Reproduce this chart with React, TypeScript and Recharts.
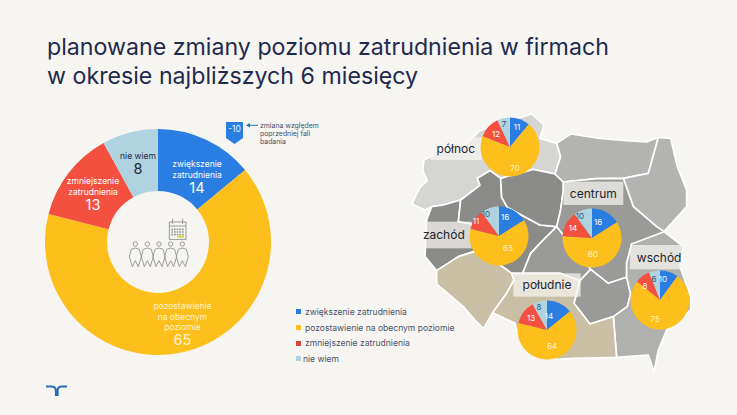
import { PieChart, Pie, Cell, Legend } from 'recharts';

const FONT = 'Inter, "Open Sans", sans-serif';

const categories = ['zwiększenie zatrudnienia', 'pozostawienie na obecnym poziomie', 'zmniejszenie zatrudnienia', 'nie wiem'];
const colors = ['#2a7de1', '#fdbf1c', '#f4503f', '#afd3e0'];

const totalValues = [14, 65, 13, 8];
const polnocValues = [11, 70, 12, 7];
const zachodValues = [16, 63, 11, 10];
const centrumValues = [16, 60, 14, 10];
const poludnieValues = [14, 64, 13, 8];
const wschodValues = [10, 75, 8, 6];

const toRows = (values: number[]) => values.map((value, i) => ({ name: categories[i], value }));

const donutLines = [['zwiększenie', 'zatrudnienia'], ['pozostawienie', 'na obecnym', 'poziomie'], ['zmniejszenie', 'zatrudnienia'], ['nie wiem']];
// x offset and first line y offset from the donut centre
const donutOffsets = [[39, -78], [24.5, 64], [-65, -61], [-20, -86]];

// regions on the map, label offsets are px from the pie centre
const regions = [
  { key: 'polnoc', values: polnocValues, cx: 510, cy: 147, offsets: [[7, -20], [5, 21], [-14, -13], [-6, -23]] },
  { key: 'zachod', values: zachodValues, cx: 499, cy: 236, offsets: [[6, -19], [9, 12], [-23, -15], [-13, -22]] },
  { key: 'centrum', values: centrumValues, cx: 592, cy: 238, offsets: [[6, -16], [1, 16], [-19, -10], [-12, -22]] },
  { key: 'poludnie', values: poludnieValues, cx: 547, cy: 330, offsets: [[2, -14], [5, 16], [-16, -12], [-8, -23]] },
  { key: 'wschod', values: wschodValues, cx: 660, cy: 300, offsets: [[3, -21], [-5, 19], [-15, -14], [-6, -21]] },
];

const mapShapes = [
  // pomorze
  { fill: '#d5d5d3', d: 'M72 150 L110 130 L160 115 L200 100 L240 62 L330 32 L395 12 L432 45 L420 85 L470 100 L482 140 L465 192 L400 178 L302 205 L270 182 L232 205 L240 226 L182 270 L130 285 L95 290 L75 300 L36 282 L60 232 L82 212 L68 180 Z' },
  // lubuskie
  { fill: '#8b8b8a', d: 'M95 290 L130 285 L182 270 L175 335 L215 342 L222 425 L175 440 L110 482 L75 440 L80 330 Z' },
  // wielkopolskie
  { fill: '#8b8b8a', d: 'M182 270 L240 226 L232 205 L270 182 L302 205 L305 262 L322 292 L420 345 L470 350 L425 395 L392 430 L368 490 L335 490 L300 465 L222 425 L215 342 L175 335 Z' },
  // kujawy
  { fill: '#8b8b8a', d: 'M302 205 L400 178 L465 192 L490 216 L490 240 L482 300 L470 350 L420 345 L322 292 L305 262 Z' },
  // warmia
  { fill: '#b3b3b1', d: 'M470 100 L512 72 L600 85 L680 92 L740 96 L775 82 L762 130 L745 190 L670 205 L590 206 L490 216 L465 192 L482 140 Z' },
  // podlasie
  { fill: '#b3b3b1', d: 'M775 82 L812 85 L832 170 L860 240 L860 290 L792 365 L770 350 L700 290 L670 205 L745 190 L762 130 Z' },
  // mazowsze
  { fill: '#9a9a99', d: 'M490 216 L590 206 L670 205 L700 290 L770 350 L792 365 L760 390 L695 402 L680 460 L680 502 L625 520 L572 478 L470 350 L482 300 L490 240 Z' },
  // lodzkie
  { fill: '#9a9a99', d: 'M470 350 L572 478 L540 512 L480 490 L368 490 L392 430 L425 395 Z' },
  // swietokrzyskie
  { fill: '#9a9a99', d: 'M572 478 L625 520 L680 502 L692 552 L682 590 L640 620 L570 642 L522 580 L540 512 Z' },
  // lubelskie, podkarpackie
  { fill: '#b0b0ae', d: 'M695 402 L792 365 L850 410 L840 470 L872 560 L872 600 L800 660 L775 720 L762 785 L745 735 L650 742 L640 620 L682 590 L692 552 L680 502 L680 460 Z' },
  // dolny slask
  { fill: '#c9bfa5', d: 'M110 482 L175 440 L222 425 L300 465 L335 490 L342 510 L320 550 L278 608 L250 656 L225 630 L190 590 L110 522 Z' },
  // slask, malopolska
  { fill: '#c9bfa5', d: 'M278 608 L320 550 L342 510 L335 490 L368 490 L480 490 L540 512 L522 580 L570 642 L640 620 L650 742 L520 745 L470 748 L350 660 L345 640 Z' },
];

const mapLabels = [
  { text: 'północ', x: 90, y: 82, w: 155, h: 68 },
  { text: 'centrum', x: 490, y: 215, w: 180, h: 70 },
  { text: 'zachód', x: 48, y: 335, w: 167, h: 80 },
  { text: 'południe', x: 340, y: 490, w: 202, h: 70 },
  { text: 'wschód', x: 690, y: 405, w: 175, h: 73 },
];

const donutLabel = (p: any) => {
  const [dx, dy] = donutOffsets[p.index];
  const lines = donutLines[p.index];
  const x = p.cx + dx;
  const top = p.cy + dy;
  return (
    <text textAnchor="middle" fontFamily={FONT} fill={p.index === 3 ? '#1f2a3d' : p.index === 1 ? '#fff3cf' : '#ffffff'}>
      {lines.map((line, i) => (
        <tspan key={i} x={x} y={top + 3 + i * 10.5} fontSize={8.5}>{line}</tspan>
      ))}
      <tspan x={x} y={top + (lines.length - 1) * 10.5 + 18} fontSize={14.5}>{p.value}</tspan>
    </text>
  );
};

const smallLabel = (offsets: number[][]) => (p: any) => (
  <text
    x={p.cx + offsets[p.index][0]}
    y={p.cy + offsets[p.index][1]}
    textAnchor="middle"
    dominantBaseline="central"
    fontFamily={FONT}
    fontSize={8}
    fill={p.index === 3 ? '#3b5472' : p.index === 1 ? '#fff3cf' : '#ffffff'}
  >
    {p.value}
  </text>
);

const LegendBox = () => (
  <div style={{ fontFamily: FONT, fontSize: 8.55, color: '#4a5268' }}>
    {categories.map((c, i) => (
      <div key={c} style={{ display: 'flex', alignItems: 'center', height: 15.7 }}>
        <span style={{ width: 5, height: 5, background: i === 2 ? '#d8453a' : colors[i], marginRight: i === 3 ? 2 : 4 }} />
        {c}
      </div>
    ))}
  </div>
);

const MapLayer = () => (
  <svg width={737} height={415} style={{ position: 'absolute', left: 0, top: 0 }}>
    <g transform="translate(400,110) scale(0.3333)">
      {mapShapes.map((s, i) => (
        <path key={i} d={s.d} fill={s.fill} stroke="#ffffff" strokeWidth={5} strokeLinejoin="round" />
      ))}
      {mapLabels.map((l) => (
        <g key={l.text}>
          <rect x={l.x} y={l.y} width={l.w} height={l.h} fill="#f6f5f1" fillOpacity={0.72} />
          <text x={l.x + l.w / 2} y={l.y + l.h / 2} textAnchor="middle" dominantBaseline="central" fontFamily={FONT} fontSize={36} fill="#20242e">
            {l.text}
          </text>
        </g>
      ))}
    </g>
  </svg>
);

const Decorations = () => (
  <svg width={737} height={415} style={{ position: 'absolute', left: 0, top: 0 }}>
    {/* calendar + people in the middle of the donut */}
    <g transform="translate(30,110) scale(0.3333)" fill="none" stroke="#8a8a88" strokeWidth={2.5}>
      <rect x={418} y={336} width={50} height={52} fill="#f6f5f1" />
      <path d="M418 348 H468 M428 326 V342 M458 326 V342" />
      <path d="M424 358 H462 M424 366 H462 M424 374 H462" stroke="#8f9a8a" strokeDasharray="5 3" strokeWidth={5} />
      <path d="M442 380 H462" stroke="#d9d24a" strokeWidth={6} />
      {[316, 352, 387, 422, 457].map((x) => (
        <g key={x}>
          <circle cx={x} cy={402} r={6.5} />
          <path d={`M${x - 12} 418 Q${x} 410 ${x + 12} 418 L${x + 18} 440 L${x + 9} 470 L${x} 452 L${x - 9} 470 L${x - 18} 440 Z`} />
        </g>
      ))}
    </g>
    {/* flag and note */}
    <path d="M226 122 H243 V138 L234.5 144 L226 138 Z" fill="#2a7de1" />
    <text x={234.5} y={129} textAnchor="middle" dominantBaseline="central" fontFamily={FONT} fontSize={8.5} fill="#e8f2ff">-10</text>
    <path d="M258 125.3 H250" stroke="#2a6db5" strokeWidth={1} />
    <path d="M246 125.3 L250 123 V127.6 Z" fill="#2a6db5" />
    <g fontFamily={FONT} fontSize={6.9} fill="#44506a">
      <text x={260} y={127.5}>zmiana względem</text>
      <text x={260} y={135.5}>poprzedniej fali</text>
      <text x={260} y={143.5}>badania</text>
    </g>
    {/* logo */}
    <g fill="none" stroke="#2a6db5" strokeWidth={2.2}>
      <path d="M46 386.5 H51 Q56 386.5 56 391 V396" />
      <path d="M67 386.5 H62 Q57.5 386.5 57.5 391 V396" />
    </g>
  </svg>
);

export default function App() {
  return (
    <div style={{ position: 'absolute', left: 0, top: 0, width: 737, height: 415, background: '#f6f5f1', overflow: 'hidden' }}>
      <div style={{ position: 'absolute', left: 47, top: 33, fontFamily: FONT, fontSize: 23.2, lineHeight: '28.5px', color: '#1f2a4d', whiteSpace: 'nowrap' }}>
        planowane zmiany poziomu zatrudnienia w firmach
        <br />
        w okresie najbliższych 6 miesięcy
      </div>
      <MapLayer />
      <div style={{ position: 'absolute', left: 0, top: 0 }}>
        <PieChart width={737} height={415} margin={{ top: 0, right: 0, bottom: 0, left: 0 }}>
          <Pie
            data={toRows(totalValues)}
            dataKey="value"
            cx={158}
            cy={242}
            innerRadius={51}
            outerRadius={113}
            startAngle={90}
            endAngle={-270}
            stroke="none"
            label={donutLabel}
            labelLine={false}
            isAnimationActive={false}
          >
            {totalValues.map((_, i) => (
              <Cell key={i} fill={colors[i]} />
            ))}
          </Pie>
          {regions.map((r) => (
            <Pie
              key={r.key}
              data={toRows(r.values)}
              dataKey="value"
              cx={r.cx}
              cy={r.cy}
              innerRadius={0}
              outerRadius={29.5}
              startAngle={90}
              endAngle={-270}
              stroke="none"
              label={smallLabel(r.offsets)}
              labelLine={false}
              isAnimationActive={false}
            >
              {r.values.map((_, i) => (
                <Cell key={i} fill={colors[i]} />
              ))}
            </Pie>
          ))}
          <Legend
            content={<LegendBox />}
            wrapperStyle={{ position: 'absolute', left: 296, top: 304, width: 200, bottom: 'auto' }}
          />
        </PieChart>
      </div>
      <Decorations />
    </div>
  );
}
